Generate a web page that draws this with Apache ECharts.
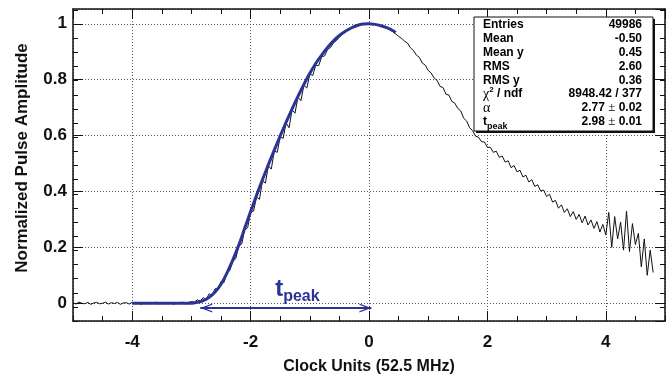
<!DOCTYPE html>
<html>
<head>
<meta charset="utf-8">
<script src="https://cdn.jsdelivr.net/npm/echarts@6/dist/echarts.min.js"></script>
<style>
  html, body { margin: 0; padding: 0; background: #fff; }
  #chart { width: 672px; height: 380px; }
</style>
</head>
<body>
<div id="chart"></div>
<script>
// measured pulse, one value per 0.05 clock-unit bin starting at -5
const binStart = -5;
const binWidth = 0.05;
const pulse = [
  // baseline -5.00 .. -3.05
  0.002, -0.003, 0.004, 0.000, -0.002, 0.003, -0.004, 0.001, 0.003, -0.002,
  0.000, 0.004, -0.003, 0.002, -0.001, 0.003, -0.004, 0.001, 0.002, -0.003,
  0.003, -0.001, 0.002, -0.004, 0.001, 0.003, -0.002, 0.000, 0.004, -0.003,
  0.002, -0.002, 0.003, 0.001, -0.004, 0.002, 0.000, 0.004, -0.003, 0.003,
  // rising edge -3.00 .. -0.55
  0.006, 0.004, 0.012, 0.008, 0.020, 0.014, 0.034, 0.028, 0.052, 0.050,
  0.078, 0.074, 0.108, 0.118, 0.150, 0.160, 0.205, 0.212, 0.262, 0.270,
  0.325, 0.330, 0.380, 0.372, 0.438, 0.430, 0.492, 0.480, 0.545, 0.540,
  0.596, 0.590, 0.645, 0.628, 0.692, 0.680, 0.738, 0.725, 0.780, 0.770,
  0.820, 0.815, 0.852, 0.850, 0.882, 0.885, 0.908, 0.915, 0.932, 0.940,
  // peak -0.50 .. 0.50
  0.953, 0.962, 0.970, 0.978, 0.985, 0.990, 0.994, 0.997, 0.999, 1.000,
  1.000, 1.000, 0.998, 0.996, 0.993, 0.990, 0.985, 0.979, 0.972, 0.964,
  0.955,
  // tail 0.55 .. 4.80
  0.948, 0.938, 0.931, 0.914, 0.905, 0.888, 0.880, 0.860, 0.852, 0.833,
  0.824, 0.806, 0.798, 0.776, 0.772, 0.748, 0.745, 0.722, 0.716, 0.697,
  0.688, 0.662, 0.652, 0.628, 0.618, 0.598, 0.594, 0.578, 0.577, 0.558,
  0.558, 0.540, 0.544, 0.522, 0.527, 0.505, 0.510, 0.485, 0.493, 0.470,
  0.476, 0.452, 0.458, 0.434, 0.442, 0.418, 0.424, 0.402, 0.405, 0.382,
  0.390, 0.362, 0.368, 0.340, 0.352, 0.325, 0.338, 0.310, 0.328, 0.300,
  0.318, 0.288, 0.312, 0.280, 0.298, 0.268, 0.292, 0.255, 0.282, 0.245,
  0.325, 0.200, 0.310, 0.230, 0.290, 0.190, 0.330, 0.185, 0.285, 0.210,
  0.250, 0.130, 0.230, 0.100, 0.190, 0.110
];

// fitted curve
const fitX = [-4, -3.5, -3.1, -3.0, -2.9, -2.8, -2.7, -2.6, -2.5, -2.4, -2.3, -2.2, -2.1, -2.0,
  -1.9, -1.8, -1.7, -1.6, -1.5, -1.4, -1.3, -1.2, -1.1, -1.0, -0.9, -0.8, -0.7, -0.6,
  -0.5, -0.4, -0.3, -0.2, -0.1, 0, 0.1, 0.2, 0.3, 0.4, 0.45];
const fitY = [0, 0, 0, 0.000, 0.003, 0.009, 0.021, 0.040, 0.068, 0.108, 0.155, 0.208, 0.268, 0.328,
  0.386, 0.442, 0.496, 0.548, 0.599, 0.648, 0.695, 0.740, 0.783, 0.823, 0.858, 0.888, 0.915, 0.939,
  0.958, 0.973, 0.985, 0.994, 0.999, 1.0, 0.998, 0.993, 0.986, 0.976, 0.969];

// t_peak arrow ends and label spot
const arrowFrom = [-2.85, -0.017];
const arrowTo = [0.04, -0.017];
const peakLabelAt = [-1.21, 0.05];

// stats box
const statNames = ['Entries', 'Mean', 'Mean y', 'RMS', 'RMS y', '{chi|χ}{sup|2}{b| / ndf}', '{al|α}', '{b|t}{sub|peak}'];
const statValues = ['49986', '-0.50', '0.45', '2.60', '0.36', '8948.42 / 377', '2.77 {pm|±} 0.02', '2.98 {pm|±} 0.01'];

const sans = '"Liberation Sans", Arial, Helvetica, sans-serif';
const serif = '"Liberation Serif", "Times New Roman", serif';
const ink = '#111';
const blue = '#2a3497';

const pulseData = pulse.map((v, i) => [+(binStart + i * binWidth).toFixed(2), v]);
const fitData = fitX.map((x, i) => [x, fitY[i]]);

// open arrow head, apex sits in the middle of the path box
const chevron = 'path://M6,-14L6.01,-14L6,-13.99Z M6,0L12,14L10.2,14L6,4.5L1.8,14L0,14Z';

const richStat = {
  b: { fontSize: 12, fontWeight: 'bold', fontFamily: sans, color: ink, lineHeight: 14 },
  chi: { fontSize: 14, fontFamily: serif, color: ink, lineHeight: 14 },
  sup: { fontSize: 8, fontWeight: 'bold', fontFamily: sans, color: ink, lineHeight: 9, padding: [0, 0, 8, 0] },
  sub: { fontSize: 9, fontWeight: 'bold', fontFamily: sans, color: ink, lineHeight: 9, padding: [11, 0, 0, 0] },
  al: { fontSize: 14, fontFamily: serif, color: '#333', lineHeight: 14 },
  pm: { fontSize: 13, fontFamily: serif, color: ink, lineHeight: 14 }
};

const rowY = [25, 39, 52.5, 66.5, 80.5, 94, 108, 121.5];
const statGraphics = [
  { type: 'rect', shape: { x: 476, y: 19, width: 179, height: 114 }, style: { fill: ink }, z: 100 },
  { type: 'rect', shape: { x: 474, y: 17, width: 179, height: 114 }, style: { fill: '#fff', stroke: ink, lineWidth: 1 }, z: 101 }
];
statNames.forEach((n, i) => {
  statGraphics.push({
    type: 'text', x: 483, y: rowY[i], z: 102,
    style: {
      text: n.indexOf('{') === 0 ? n : '{b|' + n + '}',
      align: 'left', verticalAlign: 'middle', rich: richStat
    }
  });
  statGraphics.push({
    type: 'text', x: 642, y: rowY[i], z: 102,
    style: {
      text: statValues[i].replace(/^([^{]*)\{pm\|±\}(.*)$/, '{b|$1}{pm|±}{b|$2}').replace(/^([^{]+)$/, '{b|$1}'),
      align: 'right', verticalAlign: 'middle', rich: richStat
    }
  });
});

const frameLine = { show: true, onZero: false, lineStyle: { color: ink, width: 1.5 } };
const noLine = { show: false, onZero: false };

const option = {
  animation: false,
  backgroundColor: '#fff',
  textStyle: { fontFamily: sans },
  grid: [
    { left: 73, right: 7, top: 9, bottom: 55 },
    { left: 73, right: 7, top: 9.85, bottom: 58.85 }   // only carries the y minor ticks
  ],
  xAxis: [
    {
      gridIndex: 0, type: 'value', min: -5, max: 5, position: 'bottom',
      axisLine: frameLine,
      axisTick: { show: true, inside: true, length: 10, lineStyle: { color: ink } },
      axisLabel: { showMinLabel: false, showMaxLabel: false, margin: 13, color: ink, fontSize: 17, fontWeight: 'bold', fontFamily: sans },
      splitLine: { show: true, lineStyle: { color: '#555', type: [1, 2], width: 1 } },
      name: 'Clock Units (52.5 MHz)', nameLocation: 'middle', nameGap: 38,
      nameTextStyle: { color: ink, fontSize: 16, fontWeight: 'bold', fontFamily: sans }
    },
    {
      gridIndex: 0, type: 'value', min: -5, max: 5, interval: 0.5, position: 'bottom',
      axisLine: noLine, axisTick: { show: true, inside: true, length: 5, lineStyle: { color: ink } },
      axisLabel: { show: false }, splitLine: { show: false }
    },
    {
      gridIndex: 0, type: 'value', min: -5, max: 5, position: 'top',
      axisLine: frameLine, axisTick: { show: true, inside: true, length: 10, lineStyle: { color: ink } },
      axisLabel: { show: false }, splitLine: { show: false }
    },
    {
      gridIndex: 0, type: 'value', min: -5, max: 5, interval: 0.5, position: 'top',
      axisLine: noLine, axisTick: { show: true, inside: true, length: 5, lineStyle: { color: ink } },
      axisLabel: { show: false }, splitLine: { show: false }
    },
    { gridIndex: 1, type: 'value', min: -5, max: 5, show: false }
  ],
  yAxis: [
    {
      gridIndex: 0, type: 'value', min: -0.0636, max: 1.053, position: 'left',
      axisLine: frameLine,
      axisTick: { show: true, inside: true, length: 10, lineStyle: { color: ink } },
      axisLabel: { showMinLabel: false, showMaxLabel: false, margin: 6, color: ink, fontSize: 17, fontWeight: 'bold', fontFamily: sans },
      splitLine: { show: true, lineStyle: { color: '#555', type: [1, 2], width: 1 } },
      name: 'Normalized Pulse Amplitude', nameLocation: 'middle', nameGap: 42,
      nameTextStyle: { color: ink, fontSize: 17, fontWeight: 'bold', fontFamily: sans, padding: [0, 0, 0, 14] }
    },
    {
      gridIndex: 0, type: 'value', min: -0.0636, max: 1.053, position: 'right',
      axisLine: frameLine, axisTick: { show: true, inside: true, length: 10, lineStyle: { color: ink } },
      axisLabel: { show: false }, splitLine: { show: false }
    },
    {
      gridIndex: 1, type: 'value', min: -0.05, max: 1.05, interval: 0.05, position: 'left',
      axisLine: noLine, axisTick: { show: true, inside: true, length: 5, lineStyle: { color: ink } },
      axisLabel: { show: false }, splitLine: { show: false }
    },
    {
      gridIndex: 1, type: 'value', min: -0.05, max: 1.05, interval: 0.05, position: 'right',
      axisLine: noLine, axisTick: { show: true, inside: true, length: 5, lineStyle: { color: ink } },
      axisLabel: { show: false }, splitLine: { show: false }
    }
  ],
  series: [
    {
      name: 'pulse', type: 'line', xAxisIndex: 0, yAxisIndex: 0,
      data: pulseData, showSymbol: false, symbol: 'none',
      lineStyle: { color: ink, width: 1 }, z: 2, silent: true
    },
    {
      name: 'fit', type: 'line', xAxisIndex: 0, yAxisIndex: 0,
      data: fitData, showSymbol: false, symbol: 'none', smooth: 0.3,
      lineStyle: { color: blue, width: 3 }, z: 3, silent: true,
      markLine: {
        silent: true, animation: false,
        symbol: [chevron, chevron], symbolSize: [9, 24],
        lineStyle: { color: blue, width: 2, type: 'solid' },
        label: { show: false },
        data: [[{ coord: arrowFrom }, { coord: arrowTo }]]
      },
      markPoint: {
        silent: true, animation: false,
        symbol: 'rect', symbolSize: 1, itemStyle: { color: 'rgba(0,0,0,0)' },
        label: {
          show: true, position: 'inside',
          formatter: '{t|t}{p|peak}',
          rich: {
            t: { fontSize: 24, fontWeight: 'bold', fontFamily: sans, color: blue, lineHeight: 24 },
            p: { fontSize: 16, fontWeight: 'bold', fontFamily: sans, color: blue, lineHeight: 16, padding: [14, 0, 0, 0] }
          }
        },
        data: [{ coord: peakLabelAt }]
      }
    }
  ],
  graphic: statGraphics
};

const chart = echarts.init(document.getElementById('chart'), null, { renderer: 'canvas' });
chart.setOption(option);
</script>
</body>
</html>
